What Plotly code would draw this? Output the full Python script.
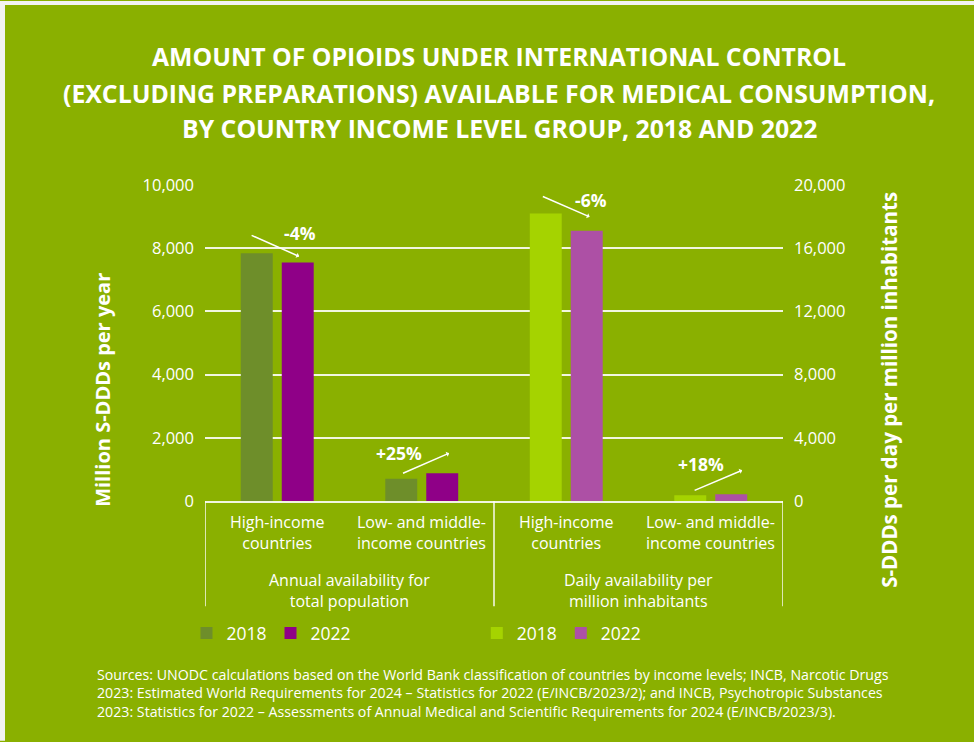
import plotly.graph_objects as go

# ---- data -------------------------------------------------------------
income_groups = ["High-income<br>countries", "Low- and middle-<br>income countries"]
measures = ["Annual availability for<br>total population",
            "Daily availability per<br>million inhabitants"]
categories = ["annual_high", "annual_low", "daily_high", "daily_low"]

annual_2018 = [7840, 705]      # million S-DDDs per year
annual_2022 = [7550, 880]
daily_2018 = [18200, 360]      # S-DDDs per day per million inhabitants
daily_2022 = [17100, 425]

left_ticks = [0, 2000, 4000, 6000, 8000, 10000]
right_ticks = [0, 4000, 8000, 12000, 16000, 20000]

title_lines = [
    "AMOUNT OF OPIOIDS UNDER INTERNATIONAL CONTROL",
    "(EXCLUDING PREPARATIONS) AVAILABLE FOR MEDICAL CONSUMPTION,",
    "BY COUNTRY INCOME LEVEL GROUP, 2018 AND 2022",
]
source_text = (
    "Sources: UNODC calculations based on the World Bank classification of countries by income levels; INCB, Narcotic Drugs<br>"
    "2023: Estimated World Requirements for 2024 \u2013 Statistics for 2022 (E/INCB/2023/2); and INCB, Psychotropic Substances<br>"
    "2023: Statistics for 2022 \u2013 Assessments of Annual Medical and Scientific Requirements for 2024 (E/INCB/2023/3)."
)

# ---- style ------------------------------------------------------------
BG = "#8ab000"
BORDER = "#f2f2f2"
WHITE = "#ffffff"
LINE = "rgba(255,255,255,0.88)"
C_L18, C_L22 = "#6e8e2a", "#8f0087"
C_R18, C_R22 = "#a5d300", "#ad50a5"
FONT = "Open Sans"

W, H = 974, 742
ML, MR, MT, MB = 205, 191, 184.5, 240.5
PW, PH = W - ML - MR, H - MT - MB


def px_x(px):
    return (px - ML) / PW


def px_y(py):
    return (H - MB - py) / PH


fig = go.Figure()

bar_style = dict(marker_line_width=0)
fig.add_trace(go.Bar(x=categories[:2], y=annual_2018, name="2018", marker_color=C_L18,
                     offsetgroup="2018", legend="legend", **bar_style))
fig.add_trace(go.Bar(x=categories[:2], y=annual_2022, name="2022", marker_color=C_L22,
                     offsetgroup="2022", legend="legend", **bar_style))
fig.add_trace(go.Bar(x=categories[2:], y=daily_2018, name="2018", marker_color=C_R18,
                     offsetgroup="2018", yaxis="y2", legend="legend2", **bar_style))
fig.add_trace(go.Bar(x=categories[2:], y=daily_2022, name="2022", marker_color=C_R22,
                     offsetgroup="2022", yaxis="y2", legend="legend2", **bar_style))

annotations = []
shapes = []

# title
for line, py in zip(title_lines, [55, 92, 127]):
    annotations.append(dict(text=f"<b>{line}</b>", xref="paper", yref="paper",
                            x=px_x(499), y=px_y(py), xanchor="center", yanchor="middle",
                            showarrow=False, font=dict(family=FONT, size=24.8, color=WHITE)))

# axis titles
annotations.append(dict(text="<b>Million S-DDDs per year</b>", xref="paper", yref="paper",
                        x=px_x(103), y=px_y(390), textangle=-90, showarrow=False,
                        xanchor="center", yanchor="middle",
                        font=dict(family=FONT, size=20, color=WHITE)))
annotations.append(dict(text="<b>S-DDDs per day per million inhabitants</b>", xref="paper",
                        yref="paper", x=px_x(889), y=px_y(390), textangle=-90,
                        showarrow=False, xanchor="center", yanchor="middle",
                        font=dict(family=FONT, size=20.5, color=WHITE)))

# category and group labels below the axis
for i, cat in enumerate(categories):
    annotations.append(dict(text=income_groups[i % 2], xref="x", yref="paper", x=i,
                            y=px_y(533.5), showarrow=False, xanchor="center",
                            yanchor="middle", font=dict(family=FONT, size=16, color=WHITE)))
for j, m in enumerate(measures):
    annotations.append(dict(text=m, xref="x", yref="paper", x=2 * j + 0.5,
                            y=px_y(591), showarrow=False, xanchor="center",
                            yanchor="middle", font=dict(family=FONT, size=16, color=WHITE)))

# bracket dividers
for xb in [-0.5, 1.5, 3.5]:
    shapes.append(dict(type="line", xref="x", yref="paper", x0=xb, x1=xb,
                       y0=px_y(501.5), y1=px_y(607), line=dict(color=LINE, width=1.6)))

# percentage change markers (arrow + label) above each pair of bars
pairs = [(0, annual_2018[0], annual_2022[0], "y"),
         (1, annual_2018[1], annual_2022[1], "y"),
         (2, daily_2018[0], daily_2022[0], "y2"),
         (3, daily_2018[1], daily_2022[1], "y2")]
head_shift = [(1.5, 6), (7, 20), (3, 14), (11, 24)]
tail_offset = [(-49, -21.7), (-47.6, 20.7), (-48.3, -21), (-49, 20.7)]
label_shift = [(2.5, 29.6), (-43.5, 19.7), (4.5, 31), (-29.8, 30.3)]
for k, (idx, v18, v22, yref) in enumerate(pairs):
    pct = round((v22 / v18 - 1) * 100)
    label = f"{pct:+d}%"
    xc = idx + 0.141
    annotations.append(dict(text="", x=xc, y=v22, xref="x", yref=yref,
                            xshift=head_shift[k][0], yshift=head_shift[k][1],
                            showarrow=True, ax=tail_offset[k][0], ay=tail_offset[k][1],
                            axref="pixel", ayref="pixel", arrowhead=1, arrowsize=0.6,
                            arrowwidth=1.5, arrowcolor=WHITE, standoff=0))
    annotations.append(dict(text=f"<b>{label}</b>", x=xc, y=v22, xref="x", yref=yref,
                            xshift=label_shift[k][0], yshift=label_shift[k][1],
                            showarrow=False, xanchor="center", yanchor="middle",
                            font=dict(family=FONT, size=17.5, color=WHITE)))

# sources
annotations.append(dict(text=source_text, xref="paper", yref="paper", x=px_x(95),
                        y=px_y(694.5), xanchor="left", yanchor="middle", align="left",
                        showarrow=False, font=dict(family=FONT, size=14.2, color=WHITE)))

# light frame on the top and left edges
shapes.append(dict(type="rect", xref="paper", yref="paper", x0=px_x(0), x1=px_x(5),
                   y0=px_y(H), y1=px_y(0), fillcolor=BORDER, line_width=0, layer="below"))
shapes.append(dict(type="rect", xref="paper", yref="paper", x0=px_x(0), x1=px_x(W),
                   y0=px_y(4), y1=px_y(0), fillcolor=BORDER, line_width=0, layer="below"))

legend_common = dict(orientation="h", bgcolor="rgba(0,0,0,0)", borderwidth=0,
                     font=dict(family=FONT, size=17.5, color=WHITE),
                     entrywidth=39, entrywidthmode="pixels",
                     yanchor="middle", y=px_y(634), xanchor="left")

fig.update_layout(
    width=W, height=H,
    margin=dict(l=ML, r=MR, t=MT, b=MB, pad=0),
    paper_bgcolor=BG, plot_bgcolor=BG,
    barmode="group", bargap=0.433, bargroupgap=0.22,
    showlegend=True,
    legend=dict(**legend_common, x=px_x(186.5)),
    legend2=dict(**legend_common, x=px_x(476.8)),
    xaxis=dict(type="category", categoryorder="array", categoryarray=categories,
               range=[-0.5, 3.5], showticklabels=False, showgrid=False, zeroline=False,
               showline=True, linecolor=LINE, linewidth=1.6, ticks=""),
    yaxis=dict(range=[0, 10000], tickvals=left_ticks, tickformat=",", showgrid=True,
               gridcolor=LINE, gridwidth=1.6, zeroline=False, showline=False,
               ticklabelstandoff=10,
               tickfont=dict(family=FONT, size=16.5, color=WHITE)),
    yaxis2=dict(range=[0, 20000], tickvals=right_ticks, tickformat=",", overlaying="y",
                side="right", showgrid=False, zeroline=False, showline=False,
                ticklabelstandoff=10,
                tickfont=dict(family=FONT, size=16.5, color=WHITE)),
    annotations=annotations,
    shapes=shapes,
)

fig.write_html("out.html")
